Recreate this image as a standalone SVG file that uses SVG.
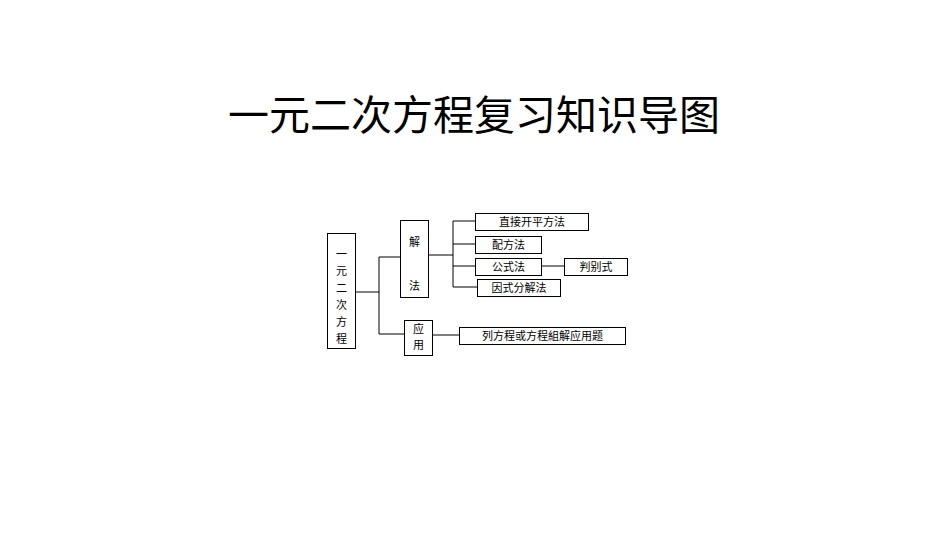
<svg xmlns="http://www.w3.org/2000/svg" width="950" height="535" viewBox="0 0 950 535">
<style>
rect{fill:#fff;stroke:#000;stroke-width:1}
.c line{stroke:#000;stroke-width:1}
text{font-family:"Liberation Serif","Noto Sans CJK SC",serif;font-size:11px;fill:#000;text-anchor:middle}
.t{font-family:"Liberation Sans","Noto Sans CJK SC",sans-serif;font-size:41px}
</style>
<rect x="0" y="0" width="950" height="535" style="fill:#fff;stroke:none"/>
<text class="t" x="474" y="130">一元二次方程复习知识导图</text>
<g class="c">
<line x1="355" y1="292" x2="379" y2="292"/>
<line x1="379" y1="257" x2="379" y2="334"/>
<line x1="379" y1="257" x2="400" y2="257"/>
<line x1="379" y1="334" x2="404" y2="334"/>
<line x1="428" y1="255" x2="453" y2="255"/>
<line x1="453" y1="221" x2="453" y2="287"/>
<line x1="453" y1="221" x2="475" y2="221"/>
<line x1="453" y1="244" x2="475" y2="244"/>
<line x1="453" y1="266" x2="475" y2="266"/>
<line x1="453" y1="287" x2="477" y2="287"/>
<line x1="541" y1="266" x2="564" y2="266"/>
<line x1="432" y1="335" x2="459" y2="335"/>
</g>
<g id="root"><rect x="327.500" y="233.500" width="28" height="115"/>
<text x="341.500" y="258">一</text><text x="341.500" y="275">元</text><text x="341.500" y="292">二</text><text x="341.500" y="309">次</text><text x="341.500" y="326">方</text><text x="341.500" y="343">程</text></g>
<g id="jiefa"><rect x="400.500" y="220.500" width="28" height="77"/><text x="414.500" y="246">解</text><text x="414.500" y="290">法</text></g>
<g id="yingyong"><rect x="404.500" y="320.500" width="28" height="35"/><text x="418.500" y="333">应</text><text x="418.500" y="349">用</text></g>
<g id="n1"><rect x="475.500" y="213.500" width="113" height="17"/><text x="532" y="226">直接开平方法</text></g>
<g id="n2"><rect x="475.500" y="236.500" width="66" height="17"/><text x="508.500" y="249">配方法</text></g>
<g id="n3"><rect x="475.500" y="258.500" width="66" height="17"/><text x="508.500" y="271">公式法</text></g>
<g id="n4"><rect x="564.500" y="258.500" width="63" height="17"/><text x="596" y="271">判别式</text></g>
<g id="n5"><rect x="477.500" y="279.500" width="83" height="17"/><text x="519" y="292">因式分解法</text></g>
<g id="n6"><rect x="459.500" y="327.500" width="166" height="17"/><text x="542.500" y="340">列方程或方程組解应用题</text></g>
</svg>
